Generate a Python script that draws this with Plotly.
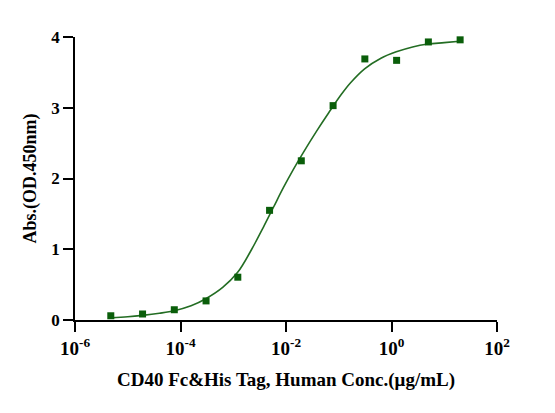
import plotly.graph_objects as go

# measured points (4-fold dilution series)
conc = [4.77e-6, 1.91e-5, 7.63e-5, 3.05e-4, 1.22e-3, 4.88e-3,
        1.95e-2, 7.81e-2, 0.3125, 1.25, 5, 20]
absorb = [0.06, 0.085, 0.145, 0.27, 0.605, 1.55,
          2.25, 3.03, 3.69, 3.67, 3.93, 3.96]

# fitted curve
curve_logx = [-5.32, -5.0, -4.72, -4.4, -4.12, -3.8, -3.52, -3.2, -2.92, -2.65,
              -2.43, -2.24, -2.05, -1.86, -1.67, -1.42, -1.19, -0.95, -0.78,
              -0.51, -0.2, 0.09, 0.4, 0.69, 1.0, 1.29]
curve_y = [0.03, 0.045, 0.065, 0.095, 0.13, 0.2, 0.3, 0.46, 0.67, 1.0,
           1.31, 1.59, 1.87, 2.13, 2.37, 2.67, 2.93, 3.19, 3.35,
           3.55, 3.7, 3.79, 3.86, 3.9, 3.92, 3.94]
curve_x = [10 ** v for v in curve_logx]

x_exps = [-6, -4, -2, 0, 2]
y_ticks = [0, 1, 2, 3, 4]

serif = "Liberation Serif"

fig = go.Figure()
fig.add_trace(go.Scatter(x=curve_x, y=curve_y, mode="lines",
                         line=dict(color="#236d23", width=1.6, shape="spline"),
                         cliponaxis=False, showlegend=False))
fig.add_trace(go.Scatter(x=conc, y=absorb, mode="markers",
                         marker=dict(symbol="square", size=7, color="#0a5e0a"),
                         cliponaxis=False, showlegend=False))

# page body has an 8px margin, so the figure is a bit smaller than the window
fig.update_layout(
    width=547, height=405,
    margin=dict(l=67, r=58, t=29, b=93),
    paper_bgcolor="white", plot_bgcolor="white",
    font=dict(family=serif, color="black"),
)
fig.update_xaxes(
    type="log", range=[-6, 2],
    tickvals=[10 ** e for e in x_exps],
    ticktext=["10<sup>%d</sup>" % e for e in x_exps],
    tickfont=dict(family=serif, size=19, weight="bold"),
    ticks="outside", ticklen=10, tickwidth=1.5, tickcolor="black",
    showline=True, linecolor="black", linewidth=1.5,
    showgrid=False, zeroline=False,
    title=dict(text="CD40 Fc&His Tag, Human Conc.(μg/mL)",
               font=dict(family=serif, size=19, weight="bold"), standoff=15),
)
fig.update_yaxes(
    range=[0, 4],
    tickvals=y_ticks,
    tickfont=dict(family=serif, size=17, weight="bold"),
    ticks="outside", ticklen=10, tickwidth=1.5, tickcolor="black",
    showline=True, linecolor="black", linewidth=1.5,
    showgrid=False, zeroline=False,
    title=dict(text="Abs.(OD.450nm)",
               font=dict(family=serif, size=18, weight="bold"), standoff=10),
)

fig.write_html("out.html")
